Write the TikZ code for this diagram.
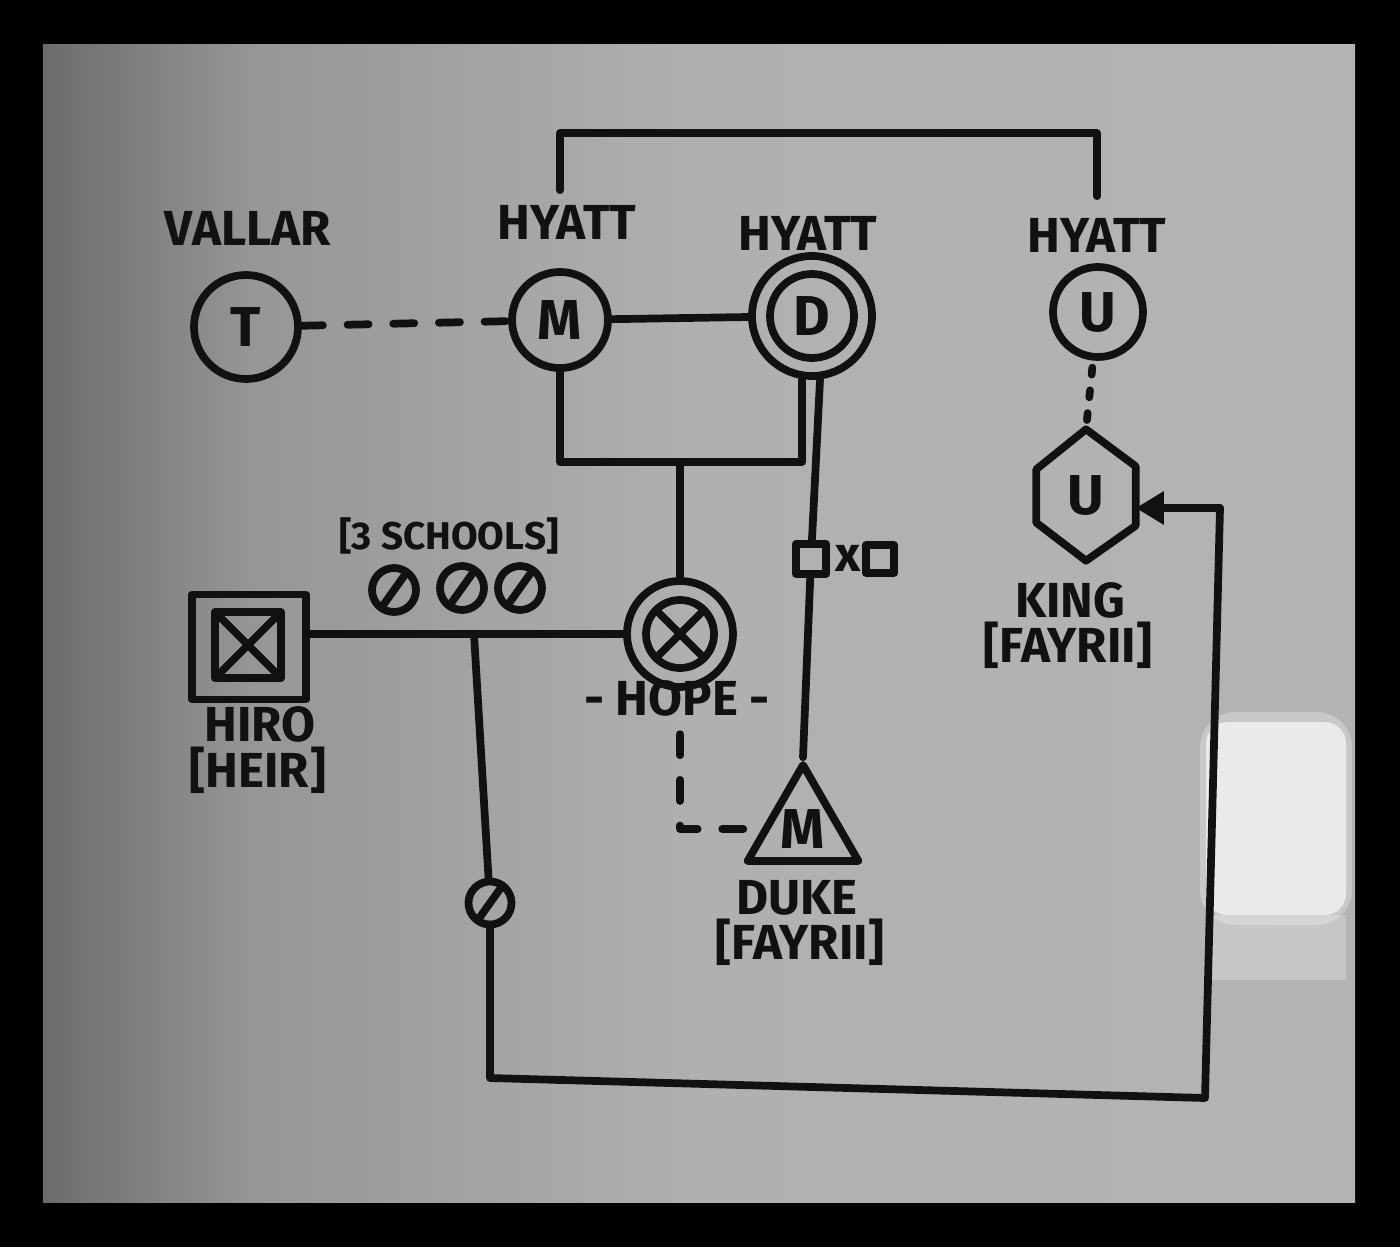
\documentclass[tikz,border=0pt]{standalone}
\usepackage{fontspec}
\setmainfont{Fira Sans}
\usepackage{tikz}
\usetikzlibrary{arrows.meta,positioning,shapes.geometric}
\definecolor{wbink}{RGB}{17,17,17}
\definecolor{wbedge}{RGB}{108,108,108}
\definecolor{wbmid}{RGB}{150,150,150}
\definecolor{wbface}{RGB}{176,176,176}
\definecolor{wbright}{RGB}{180,180,180}
\definecolor{wbglare}{RGB}{240,240,240}
\pgfdeclarehorizontalshading{wbboard}{100bp}{color(0bp)=(wbedge); color(25bp)=(wbedge);
  color(33bp)=(wbmid); color(50bp)=(wbface); color(75bp)=(wbright); color(100bp)=(wbright)}
\newcommand{\wbfont}{\fontsize{14}{16}\selectfont\bfseries}
\newcommand{\wbletter}{\fontsize{16}{16}\selectfont\bfseries}
\tikzset{
  wbpen/.style={draw=wbink, line width=2.2pt, line cap=round, line join=round},
  wbcircle/.style={circle, wbpen, inner sep=0pt, font=\wbletter, text=wbink},
  wbbox/.style={rectangle, wbpen, inner sep=0pt},
  wbtri/.style={regular polygon, regular polygon sides=3, wbpen, inner sep=0pt,
    minimum size=1.28cm, font=\wbletter, text=wbink},
  wblabel/.style={font=\wbfont, text=wbink, inner sep=1pt},
  wbcross/.style={path picture={\draw[wbpen] (path picture bounding box.south west) -- (path picture bounding box.north east)
    (path picture bounding box.north west) -- (path picture bounding box.south east);}},
  wbslash/.style={wbcircle, minimum size=0.44cm, path picture={\draw[wbpen]
    ([shift={(-0.1,-0.14)}]path picture bounding box.center) -- ([shift={(0.1,0.14)}]path picture bounding box.center);}},
  wbline/.style={wbpen},
  wbdash/.style={wbpen, dash pattern=on 6pt off 7pt},
  wbdots/.style={wbpen, dash pattern=on 2pt off 4.5pt},
  wbarrow/.style={wbpen, -{Triangle[length=8pt,width=9pt]}}
}

\begin{document}
\begin{tikzpicture}
  \fill[black] (0,0) rectangle (14,-12.47);
  \shade[shading=wbboard] (0.43,-0.44) rectangle (13.55,-12.02);
  \fill[wbglare, opacity=0.35, rounded corners=10pt] (12.00,-7.12) rectangle (13.52,-9.25);
  \fill[wbglare, opacity=0.85, rounded corners=6pt] (12.06,-7.22) rectangle (13.46,-9.15);
  \fill[white, opacity=0.25] (12.06,-9.15) rectangle (13.46,-9.80);
  \useasboundingbox (0,0) rectangle (14,-12.47);

  \node[wblabel] (vallarL) at (2.48,-2.28) {VALLAR};
  \node[wbcircle, minimum size=1.04cm] (tV) at (2.46,-3.27) {T};
  \node[wblabel] (hyattA) at (5.67,-2.22) {HYATT};
  \node[wbcircle, minimum size=0.96cm] (mH) at (5.60,-3.20) {M};
  \node[wblabel] (hyattB) at (8.08,-2.33) {HYATT};
  \node[wbcircle, minimum size=1.20cm] (dH) at (8.12,-3.16) {};
  \node[wbcircle, minimum size=0.84cm] (dHin) at (dH) {D};
  \node[wblabel] (hyattC) at (10.97,-2.35) {HYATT};
  \node[wbcircle, minimum size=0.90cm] (uH) at (10.98,-3.12) {U};
  \node[font=\wbletter, text=wbink, minimum width=0.98cm, minimum height=1.30cm, inner sep=0pt] (kingU) at (10.86,-4.95) {U};
  \node[wblabel] (kingL) at (10.70,-6.00) {KING};
  \node[wblabel] (kingF) at (10.68,-6.45) {[FAYRII]};

  \node[wblabel, font=\fontsize{11}{13}\selectfont\bfseries] (schoolsL) at (4.49,-5.36) {[3 SCHOOLS]};
  \node[wbslash] (sc1) at (3.94,-5.90) {};
  \node[wbslash] (sc2) at (4.62,-5.88) {};
  \node[wbslash] (sc3) at (5.20,-5.88) {};
  \node[wbbox, minimum width=1.14cm, minimum height=1.05cm] (hiro) at (2.49,-6.47) {};
  \node[wbbox, wbcross, minimum size=0.66cm] (hiroIn) at (2.48,-6.45) {};
  \node[wblabel] (hiroL) at (2.60,-7.24) {HIRO};
  \node[wblabel] (heirL) at (2.58,-7.70) {[HEIR]};
  \node[wbcircle, minimum size=1.06cm] (hope) at (6.80,-6.34) {};
  \node[wbcircle, wbcross, minimum size=0.68cm] (hopeIn) at (hope) {};
  \node[wblabel] (hopeL) at (6.77,-6.98) {- HOPE -};
  \node[wbbox, minimum size=0.30cm] (sqA) at (8.11,-5.59) {};
  \node[wblabel] (xL) at (8.48,-5.58) {x};
  \node[wbbox, minimum size=0.28cm] (sqB) at (8.80,-5.59) {};
  \node[wbtri] (duke) at (8.03,-8.29) {M};
  \node[wblabel] (dukeL) at (7.97,-8.98) {DUKE};
  \node[wblabel] (dukeF) at (8.00,-9.42) {[FAYRII]};
  \node[wbslash, minimum size=0.43cm] (lineC) at (4.90,-9.03) {};

  \coordinate (topbar) at (8.30,-1.33);
  \coordinate (famR) at (8.02,-4.62);
  \coordinate (jS) at (4.74,-6.34);
  \coordinate (botL) at (4.90,-10.78);
  \coordinate (botR) at (12.05,-10.98);
  \coordinate (riseT) at (12.20,-5.08);

  \draw[wbline, shorten <=3pt, shorten >=5pt] (mH |- hyattA.north) |- (topbar) -| (hyattC.north);
  \draw[wbdash] (tV) -- (mH);
  \draw[wbline] (mH) -- (dH);
  \draw[wbline] (mH.south) |- (famR) -- (famR |- dH.south);
  \draw[wbline] (hope.north) -- (hope.north |- famR);
  \draw[wbline] ([xshift=0.08cm]dH.south) -- (sqA) -- (duke.north);
  \draw[wbline] (hope.west) -- (hope.west -| hiro.east);
  \draw[wbline] (jS) -- (lineC) -- (botL) -- (botR) -- (riseT);
  \draw[wbarrow] (riseT) -- (riseT -| kingU.east);
  \draw[wbdots, shorten <=2pt] (uH) -- (kingU.north);
  \draw[wbdash, shorten <=4pt] (hope |- hopeL.south) |- (duke.west);
  \draw[wbline] (kingU.north) -- ([yshift=-0.37cm]kingU.north east) -- ([yshift=0.35cm]kingU.south east)
    -- (kingU.south) -- ([yshift=0.38cm]kingU.south west) -- ([yshift=-0.40cm]kingU.north west) -- cycle;
\end{tikzpicture}
\end{document}
